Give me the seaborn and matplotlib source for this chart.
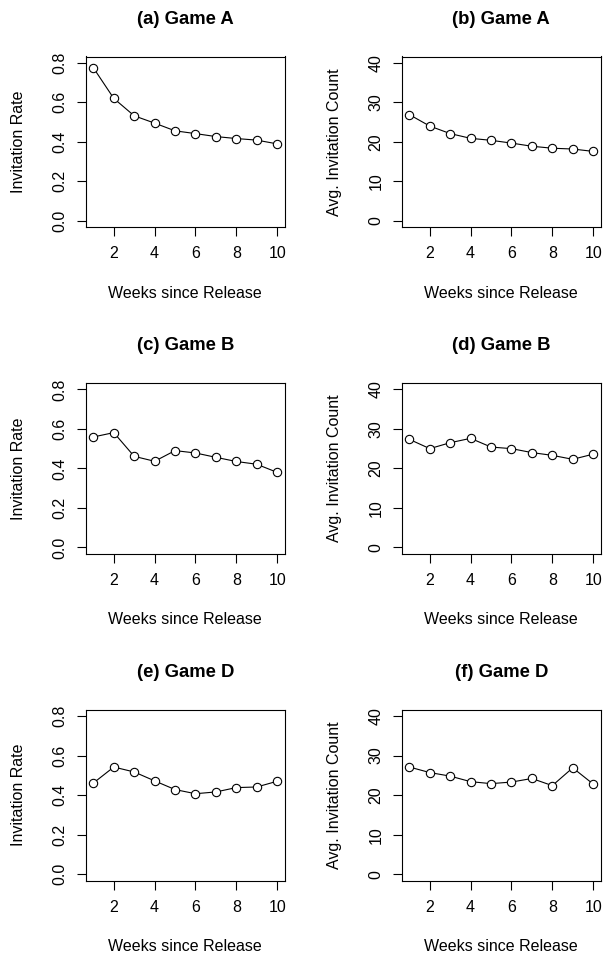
import numpy as np
import pandas as pd
import matplotlib
matplotlib.use('Agg')
import matplotlib.pyplot as plt
import seaborn as sns

# values
weeks = [1, 2, 3, 4, 5, 6, 7, 8, 9, 10]
rate_a = [0.775, 0.620, 0.532, 0.495, 0.456, 0.442, 0.427, 0.417, 0.409, 0.390]
count_a = [26.9, 24.0, 22.1, 20.9, 20.4, 19.7, 18.9, 18.4, 18.2, 17.6]
rate_b = [0.559, 0.581, 0.461, 0.436, 0.490, 0.478, 0.456, 0.435, 0.421, 0.380]
count_b = [27.35, 25.0, 26.5, 27.6, 25.4, 25.0, 24.0, 23.3, 22.3, 23.6]
rate_d = [0.461, 0.542, 0.517, 0.472, 0.428, 0.407, 0.416, 0.438, 0.441, 0.470]
count_d = [27.1, 25.7, 24.8, 23.4, 22.9, 23.3, 24.2, 22.4, 26.9, 22.8]

titles = ['(a) Game A', '(b) Game A', '(c) Game B', '(d) Game B', '(e) Game D', '(f) Game D']
series = [rate_a, count_a, rate_b, count_b, rate_d, count_d]

rate_ticks = [0.0, 0.2, 0.4, 0.6, 0.8]
rate_labels = ['0.0', '0.2', '0.4', '0.6', '0.8']
count_ticks = [0, 10, 20, 30, 40]
count_labels = ['0', '10', '20', '30', '40']
week_ticks = [2, 4, 6, 8, 10]

sns.set_style('ticks')
plt.rcParams['font.family'] = ['Liberation Sans', 'DejaVu Sans']
plt.rcParams['axes.linewidth'] = 0.8
plt.rcParams['text.color'] = 'black'
plt.rcParams['axes.labelcolor'] = 'black'

W, H = 603, 956
fig = plt.figure(figsize=(W / 100, H / 100), dpi=100)

# plot box positions in pixels (left, top), same size for all
col_left = [86, 402]
row_top = [56.5, 383, 709.7]
box_w, box_h = 198.5, 170.8

for i, (title, vals) in enumerate(zip(titles, series)):
    r, c = divmod(i, 2)
    ax = fig.add_axes([col_left[c] / W, 1 - (row_top[r] + box_h) / H, box_w / W, box_h / H])
    df = pd.DataFrame({'week': weeks, 'value': vals})
    sns.lineplot(data=df, x='week', y='value', ax=ax, color='black', linewidth=0.8,
                 marker='o', markersize=6, markerfacecolor='white',
                 markeredgecolor='black', markeredgewidth=0.8)

    if c == 0:
        ax.set_ylim(-0.032, 0.832)
        ax.set_yticks(rate_ticks, rate_labels, rotation=90, va='center')
        ylab = 'Invitation Rate'
    else:
        ax.set_ylim(-1.6, 41.6)
        ax.set_yticks(count_ticks, count_labels, rotation=90, va='center')
        ylab = 'Avg. Invitation Count'
    ax.set_xlim(0.64, 10.36)
    ax.set_xticks(week_ticks)

    ax.tick_params(direction='out', length=6.5, width=0.8, labelsize=11.5, colors='black')
    ax.tick_params(axis='x', pad=7.3)
    ax.tick_params(axis='y', pad=6.7)

    ax.set_xlabel('Weeks since Release', fontsize=11.5, va='center')
    ax.xaxis.set_label_coords(0.5, -66 / box_h)
    ax.set_ylabel(ylab, fontsize=11.5, va='center')
    ax.yaxis.set_label_coords(-67 / box_w, 0.5)
    ax.set_title(title, fontsize=13.3, fontweight='bold', y=1 + 37 / box_h, va='center', pad=0)

    for sp in ax.spines.values():
        sp.set_visible(True)
        sp.set_color('black')

fig.savefig('out.png', dpi=100)
